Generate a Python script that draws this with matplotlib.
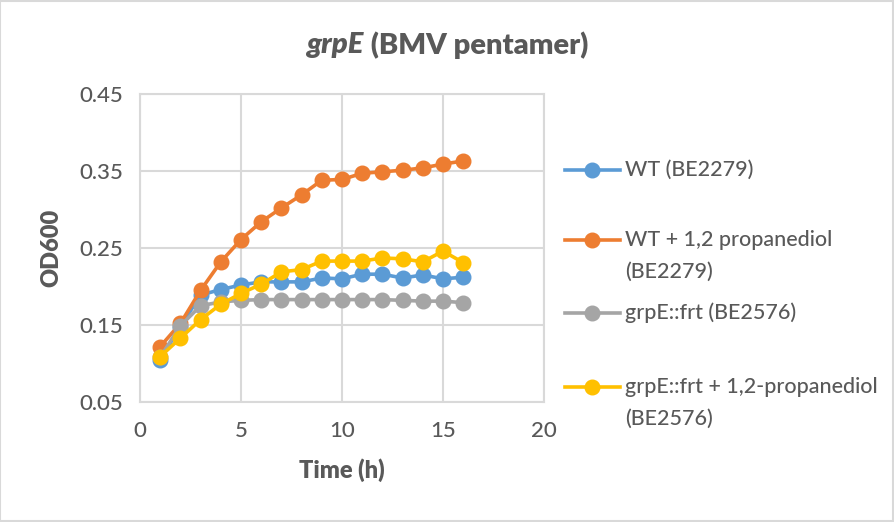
import matplotlib
matplotlib.use("Agg")
import matplotlib.pyplot as plt
from matplotlib.lines import Line2D
from matplotlib.patches import Rectangle

time_h = list(range(1, 17))
wt = [0.105, 0.148, 0.189, 0.196, 0.202, 0.206, 0.206, 0.206, 0.211, 0.210, 0.216, 0.216, 0.211, 0.215, 0.210, 0.212]
wt_pd = [0.122, 0.152, 0.195, 0.232, 0.261, 0.284, 0.302, 0.319, 0.338, 0.339, 0.347, 0.349, 0.351, 0.354, 0.359, 0.363]
grpe = [0.108, 0.149, 0.175, 0.180, 0.182, 0.183, 0.183, 0.183, 0.183, 0.183, 0.183, 0.183, 0.182, 0.181, 0.181, 0.179]
grpe_pd = [0.109, 0.133, 0.157, 0.177, 0.191, 0.203, 0.219, 0.222, 0.233, 0.233, 0.233, 0.237, 0.236, 0.232, 0.246, 0.231]

labels = ["WT (BE2279)", "WT + 1,2 propanediol\n(BE2279)", "grpE::frt (BE2576)",
          "grpE::frt + 1,2-propanediol\n(BE2576)"]
colors = ["#5B9BD5", "#ED7D31", "#A5A5A5", "#FFC000"]
series = [wt, wt_pd, grpe, grpe_pd]
yticks = [0.05, 0.15, 0.25, 0.35, 0.45]
xticks = [0, 5, 10, 15, 20]
title_italic = "grpE"
title_rest = " (BMV pentamer)"

plt.rcParams['font.family'] = ['Lato', 'DejaVu Sans']
plt.rcParams['font.weight'] = 500
txt = "#595959"
grid = "#D9D9D9"
BOLD = 800

fig = plt.figure(figsize=(8.94, 5.22), dpi=100)
fig.add_artist(Rectangle((0.0005, 0.001), 0.998, 0.997, transform=fig.transFigure,
                         fill=False, edgecolor=grid, linewidth=1.5))
ax = fig.add_axes([140/894, 1-402/522, 404/894, 308/522])

for vals, c in zip(series, colors):
    ax.plot(time_h, vals, color=c, linewidth=2.6, marker='o', markersize=10.5,
            markerfacecolor=c, markeredgecolor=c, zorder=3)

ax.set_xlim(0, 20)
ax.set_ylim(0.05, 0.45)
ax.set_xticks(xticks)
ax.set_yticks(yticks)
ax.set_yticklabels([f"{v:.2f}" for v in yticks])
ax.grid(True, color=grid, linewidth=1.5)
ax.set_axisbelow(True)
for s in ax.spines.values():
    s.set_color(grid)
    s.set_linewidth(1.5)
ax.tick_params(length=0, labelsize=16, colors=txt, pad=12)
ax.tick_params(axis='x', pad=14)

ax.set_xlabel("Time (h)", fontsize=17, fontweight=BOLD, color=txt, labelpad=12)
ax.set_ylabel("OD600", fontsize=17, fontweight=BOLD, color=txt, labelpad=12)

fig.canvas.draw()
r = fig.canvas.get_renderer()
t1 = fig.text(0, 1-45/522, title_italic, ha='left', va='center', fontsize=21,
              fontweight=BOLD, fontstyle='italic', color=txt)
t2 = fig.text(0, 1-45/522, title_rest, ha='left', va='center', fontsize=21,
              fontweight=BOLD, fontstyle='normal', color=txt)
w1 = t1.get_window_extent(r).width
w2 = t2.get_window_extent(r).width
x0 = 447 - (w1 + w2) / 2
t1.set_x(x0/894)
t2.set_x((x0 + w1)/894)

rows_y = [170, 240, 313, 387]
for lab, c, yy in zip(labels, colors, rows_y):
    yf = 1 - yy/522
    fig.add_artist(Line2D([565/894, 620/894], [yf, yf], transform=fig.transFigure,
                          color=c, linewidth=2.6))
    fig.add_artist(Line2D([592/894], [yf], transform=fig.transFigure, color=c,
                          marker='o', markersize=10.5, markerfacecolor=c, markeredgecolor=c))
    for i, ln in enumerate(lab.split("\n")):
        fig.text(625/894, 1 - (yy + i*32)/522, ln, ha='left', va='center',
                 fontsize=15.5, color=txt)

fig.savefig("out.png", dpi=100)
